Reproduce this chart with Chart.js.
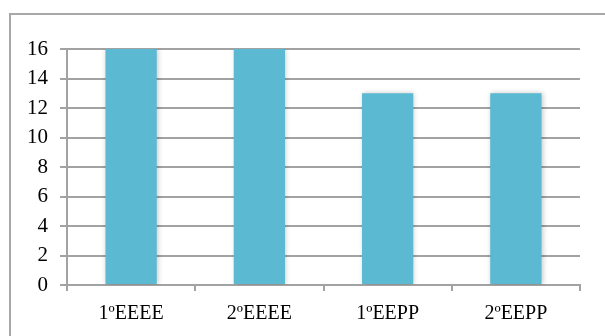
<!DOCTYPE html>
<html>
<head>
<meta charset="utf-8">
<script src="https://cdn.jsdelivr.net/npm/chart.js@4/dist/chart.umd.min.js"></script>
<style>
html, body { margin: 0; padding: 0; background: #fff; }
#wrap { position: relative; width: 605px; height: 336px; }
</style>
</head>
<body>
<div id="wrap"><canvas id="bars"></canvas></div>
<script>
var courses = ["1ºEEEE", "2ºEEEE", "1ºEEPP", "2ºEEPP"];
var students = [16, 16, 13, 13];
var yTicks = [0, 2, 4, 6, 8, 10, 12, 14, 16];

var gridGrey = "#a2a2a2";

// frame round the chart (only top and left edges fall inside the canvas)
var framePlugin = {
	id: "frame",
	beforeDraw: function (chart) {
		var ctx = chart.ctx;
		ctx.save();
		ctx.strokeStyle = "#a8a8a8";
		ctx.lineWidth = 2;
		ctx.beginPath();
		ctx.moveTo(10, 340);
		ctx.lineTo(10, 14);
		ctx.lineTo(610, 14);
		ctx.stroke();
		ctx.restore();
	}
};

// soft shadow under the bars
var shadowPlugin = {
	id: "barShadow",
	beforeDatasetDraw: function (chart) {
		var ctx = chart.ctx;
		ctx.save();
		ctx.shadowColor = "rgba(0,0,0,0.22)";
		ctx.shadowBlur = 5;
		ctx.shadowOffsetX = 1;
		ctx.shadowOffsetY = 0;
	},
	afterDatasetDraw: function (chart) {
		chart.ctx.restore();
	}
};

var ctx = document.getElementById("bars").getContext("2d");
var chart = new Chart(ctx, {
	type: "bar",
	data: {
		labels: courses,
		datasets: [{
			data: students,
			backgroundColor: "#5bb9d2",
			borderWidth: 0,
			categoryPercentage: 1,
			barPercentage: 0.4
		}]
	},
	options: {
		responsive: true,
		maintainAspectRatio: false,
		animation: false,
		layout: { padding: { left: 0, top: 49, right: 25, bottom: 0 } },
		plugins: {
			legend: { display: false },
			tooltip: { enabled: false }
		},
		scales: {
			x: {
				grid: {
					display: true,
					drawOnChartArea: false,
					drawTicks: true,
					tickLength: 6,
					offset: true,
					color: gridGrey,
					lineWidth: 2
				},
				border: { color: gridGrey, width: 2 },
				ticks: {
					color: "#000",
					padding: 11,
					maxRotation: 0,
					font: { family: "'Liberation Serif', serif", size: 20 }
				},
				afterFit: function (axis) { axis.height = 51; }
			},
			y: {
				min: 0,
				max: 16,
				afterBuildTicks: function (axis) {
					axis.ticks = yTicks.map(function (v) { return { value: v }; });
				},
				grid: {
					color: gridGrey,
					lineWidth: 2,
					tickLength: 7
				},
				border: { color: gridGrey, width: 2 },
				ticks: {
					color: "#000",
					padding: 12,
					font: { family: "'Liberation Serif', serif", size: 21 }
				},
				afterFit: function (axis) { axis.width = 67; }
			}
		}
	},
	plugins: [framePlugin, shadowPlugin]
});
</script>
</body>
</html>
